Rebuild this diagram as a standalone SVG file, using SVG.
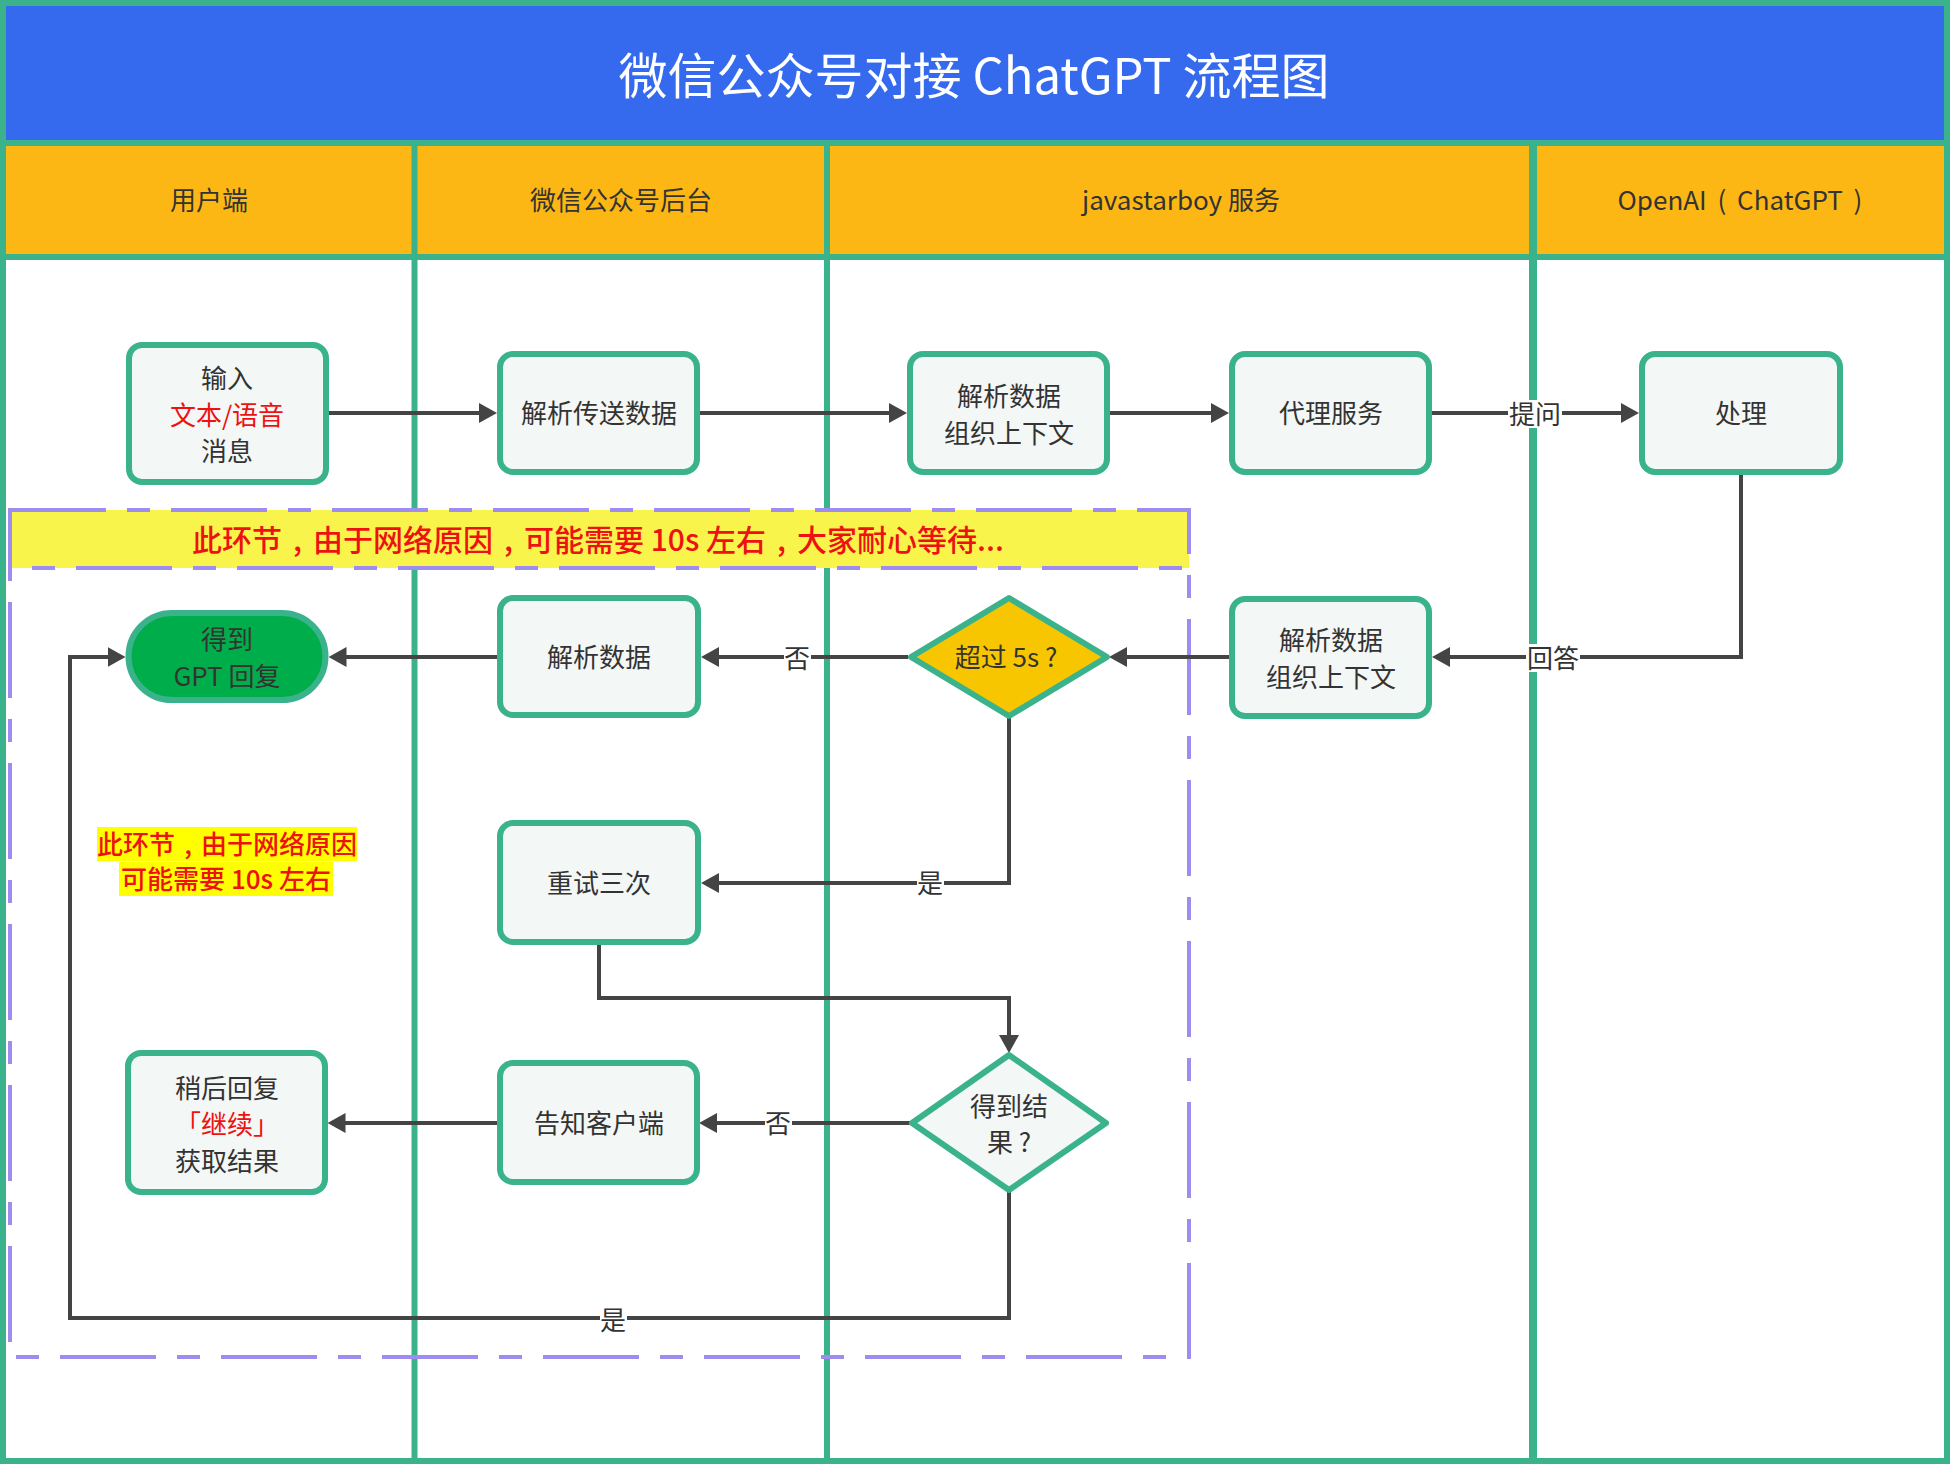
<svg xmlns="http://www.w3.org/2000/svg" width="1950" height="1464" viewBox="0 0 1950 1464">
<defs>
<style>
.t{font-family:"Noto Sans CJK SC","Noto Sans",sans-serif;text-anchor:middle;dominant-baseline:central}
.nt{font-size:26px;fill:#333}
.hd{font-size:26px;fill:#333}
.red{fill:#EE1111}
.box{fill:#F3F7F6;stroke:#3AB38D;stroke-width:6}
.lane{stroke:#3AB38D;stroke-width:6}
.con{fill:none;stroke:#444;stroke-width:4}
.lbl{font-size:26px;fill:#333}
.lblbg{fill:#fff}
.dash{fill:none;stroke:#9E8CEE;stroke-width:4;stroke-dasharray:96 21 23 21}
</style>
<marker id="arr" markerUnits="userSpaceOnUse" markerWidth="18" markerHeight="20" viewBox="0 0 18 20" refX="14" refY="10" orient="auto">
<path d="M0,0 L18,10 L0,20 Z" fill="#444"/>
</marker>
</defs>
<rect x="0" y="0" width="1950" height="1464" fill="#fff"/>
<g id="frame">
<rect x="0" y="0" width="1950" height="143" fill="#356AEF"/>
<rect x="0" y="143" width="1950" height="114" fill="#FDB714"/>
<line class="lane" x1="0" y1="143" x2="1950" y2="143"/>
<line class="lane" x1="0" y1="257" x2="1950" y2="257"/>
<line class="lane" x1="414.5" y1="143" x2="414.5" y2="1464"/>
<line class="lane" x1="827" y1="143" x2="827" y2="1464"/>
<line class="lane" x1="1533" y1="143" x2="1533" y2="1464" style="stroke-width:8"/>
<rect x="3" y="3" width="1944" height="1458" fill="none" stroke="#3AB38D" stroke-width="6"/>
<text class="t" x="974" y="72" style="font-size:49px;fill:#fff">微信公众号对接 ChatGPT 流程图</text>
<text class="t hd" x="209" y="198">用户端</text>
<text class="t hd" x="621" y="198">微信公众号后台</text>
<text class="t hd" x="1181" y="198">javastarboy 服务</text>
<text class="t hd" x="1740" y="198" style="word-spacing:5px">OpenAI ( ChatGPT )</text>
</g>
<g id="wait-area">
<rect class="dash" x="10" y="510" width="1179" height="847"/>
<rect x="10" y="510" width="1179" height="58" fill="#F8F44C"/>
<rect class="dash" x="10" y="510" width="1179" height="58"/>
<text class="t red" x="598" y="538" style="font-size:30px;font-weight:500">此环节<tspan dx="11">,</tspan><tspan dx="11">由于网络原因</tspan><tspan dx="11">,</tspan><tspan dx="11">可能需要 10s 左右</tspan><tspan dx="11">,</tspan><tspan dx="11">大家耐心等待...</tspan></text>
</g>
<g id="note">
<rect x="97" y="827" width="260" height="34" fill="#FFFF00"/>
<rect x="119" y="862" width="214" height="34" fill="#FFFF00"/>
<text class="t red" x="227" y="842" style="font-size:26px;font-weight:500">此环节<tspan dx="9">,</tspan><tspan dx="9">由于网络原因</tspan></text>
<text class="t red" x="226" y="877" style="font-size:26px;font-weight:500">可能需要 10s 左右</text>
</g>
<g id="connectors">
<path class="con" d="M329 413 H493" marker-end="url(#arr)"/>
<path class="con" d="M700 413 H903" marker-end="url(#arr)"/>
<path class="con" d="M1110 413 H1225" marker-end="url(#arr)"/>
<path class="con" d="M1432 413 H1635" marker-end="url(#arr)"/>
<path class="con" d="M1741 475 V657 H1436" marker-end="url(#arr)"/>
<path class="con" d="M1229 657 H1113" marker-end="url(#arr)"/>
<path class="con" d="M908 657 H705" marker-end="url(#arr)"/>
<path class="con" d="M497 657 H332.5" marker-end="url(#arr)"/>
<path class="con" d="M1009 717 V883 H705" marker-end="url(#arr)"/>
<path class="con" d="M599 945 V998 H1009 V1049" marker-end="url(#arr)"/>
<path class="con" d="M910 1123 H703" marker-end="url(#arr)"/>
<path class="con" d="M497 1123 H331.5" marker-end="url(#arr)"/>
<path class="con" d="M1009 1191 V1318 H70 V657 H121.5" marker-end="url(#arr)"/>
<rect class="lblbg" x="1508" y="400" width="54" height="28"/>
<text class="t lbl" x="1535" y="412">提问</text>
<rect class="lblbg" x="1526" y="644" width="54" height="28"/>
<text class="t lbl" x="1553" y="656">回答</text>
<rect class="lblbg" x="784" y="644" width="27" height="28"/>
<text class="t lbl" x="797" y="656">否</text>
<rect class="lblbg" x="917" y="869" width="27" height="28"/>
<text class="t lbl" x="930" y="881">是</text>
<rect class="lblbg" x="765" y="1109" width="27" height="28"/>
<text class="t lbl" x="778" y="1121">否</text>
<rect class="lblbg" x="600" y="1306" width="27" height="28"/>
<text class="t lbl" x="613" y="1318">是</text>
</g>
<g id="n-input">
<rect class="box" x="129" y="345" width="197" height="137" rx="13"/>
<text class="t nt" x="227" y="376">输入</text>
<text class="t nt red" x="227" y="413">文本/语音</text>
<text class="t nt" x="227" y="449">消息</text>
</g>
<g id="n-parse-send">
<rect class="box" x="500" y="354" width="197" height="118" rx="13"/>
<text class="t nt" x="599" y="411">解析传送数据</text>
</g>
<g id="n-parse-ctx1">
<rect class="box" x="910" y="354" width="197" height="118" rx="13"/>
<text class="t nt" x="1009" y="394">解析数据</text>
<text class="t nt" x="1009" y="431">组织上下文</text>
</g>
<g id="n-proxy">
<rect class="box" x="1232" y="354" width="197" height="118" rx="13"/>
<text class="t nt" x="1331" y="411">代理服务</text>
</g>
<g id="n-process">
<rect class="box" x="1642" y="354" width="198" height="118" rx="13"/>
<text class="t nt" x="1741" y="411">处理</text>
</g>
<g id="n-parse-ctx2">
<rect class="box" x="1232" y="599" width="197" height="117" rx="13"/>
<text class="t nt" x="1331" y="638">解析数据</text>
<text class="t nt" x="1331" y="675">组织上下文</text>
</g>
<g id="n-over5s">
<polygon points="1009,598 1107,657 1009,716 911,657" fill="#F8C600" stroke="#3AB38D" stroke-width="6" stroke-linejoin="round"/>
<text class="t nt" x="1006" y="655">超过 5s ?</text>
</g>
<g id="n-parse">
<rect class="box" x="500" y="598" width="198" height="117" rx="13"/>
<text class="t nt" x="599" y="655">解析数据</text>
</g>
<g id="n-gpt-reply">
<rect x="128.5" y="613" width="197" height="87" rx="43.5" fill="#00AD4B" stroke="#3AB38D" stroke-width="6"/>
<text class="t nt" x="227" y="637">得到</text>
<text class="t nt" x="227" y="674">GPT 回复</text>
</g>
<g id="n-retry">
<rect class="box" x="500" y="823" width="198" height="119" rx="13"/>
<text class="t nt" x="599" y="881">重试三次</text>
</g>
<g id="n-got-result">
<polygon points="1009,1055 1106,1123 1009,1190 912,1123" fill="#F3F7F6" stroke="#3AB38D" stroke-width="6" stroke-linejoin="round"/>
<text class="t nt" x="1009" y="1104">得到结</text>
<text class="t nt" x="1009" y="1140">果 ?</text>
</g>
<g id="n-notify">
<rect class="box" x="500" y="1063" width="197" height="119" rx="13"/>
<text class="t nt" x="599" y="1121">告知客户端</text>
</g>
<g id="n-later">
<rect class="box" x="128" y="1053" width="197" height="139" rx="13"/>
<text class="t nt" x="227" y="1086">稍后回复</text>
<text class="t nt red" x="227" y="1122">「继续」</text>
<text class="t nt" x="227" y="1159">获取结果</text>
</g>
</svg>
